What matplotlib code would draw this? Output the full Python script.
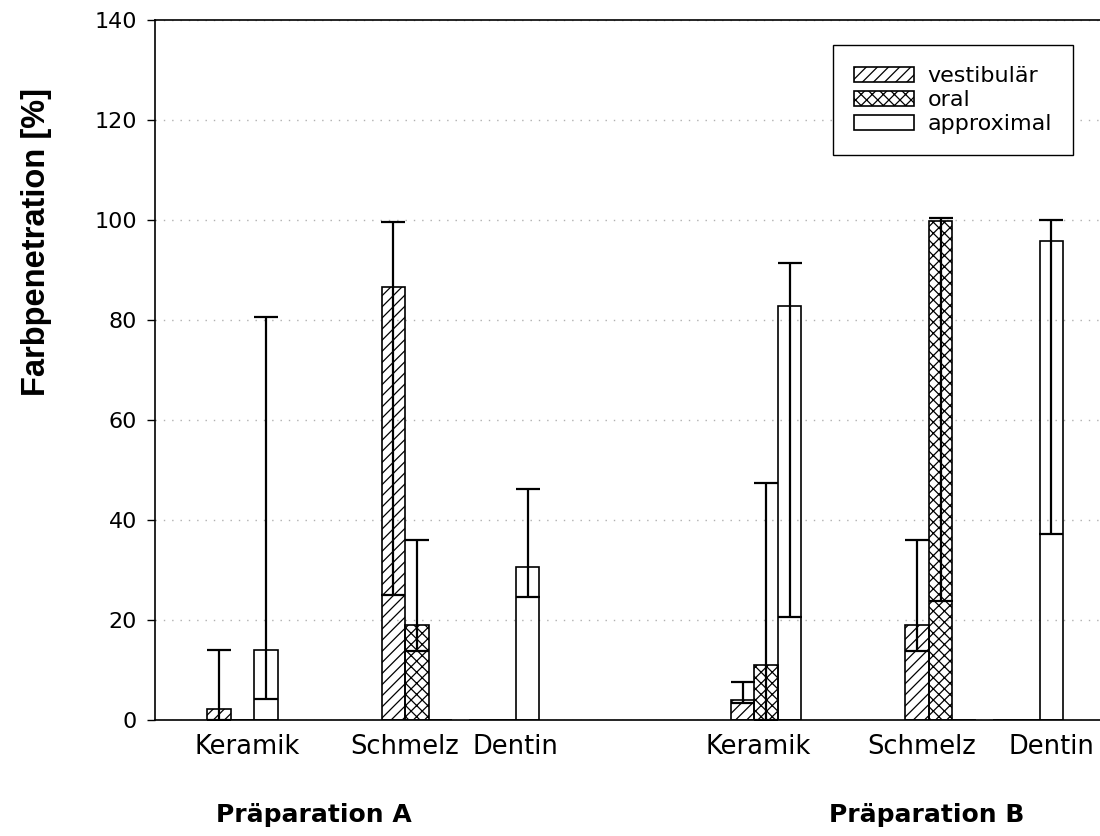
import numpy as np
import matplotlib
matplotlib.use("Agg")
import matplotlib.pyplot as plt
from matplotlib.transforms import blended_transform_factory

# Categories (two preparations, three tissue types each)
categories = ["Keramik", "Schmelz", "Dentin", "Keramik", "Schmelz", "Dentin"]
group_pos = [1, 3, 4, 7, 9, 10]
preparations = ["Präparation A", "Präparation B"]
series_names = ["vestibulär", "oral", "approximal"]

# Mean dye penetration [%] and lower / upper error limits
vest_mean = [2.2, 86.6, 0.0, 4.0, 19.1, 0.0]
vest_low = [0.0, 25.0, np.nan, 3.4, 13.8, np.nan]
vest_high = [14.0, 99.7, np.nan, 7.6, 36.0, np.nan]

oral_mean = [0.0, 19.1, 0.0, 11.1, 99.8, 0.0]
oral_low = [np.nan, 13.8, np.nan, 0.0, 23.9, np.nan]
oral_high = [np.nan, 36.0, np.nan, 47.5, 100.5, np.nan]

appr_mean = [14.1, 0.0, 30.7, 82.8, 0.0, 95.9]
appr_low = [4.2, np.nan, 24.7, 20.6, np.nan, 37.3]
appr_high = [80.6, np.nan, 46.3, 91.4, np.nan, 100.0]

yticks = [0, 20, 40, 60, 80, 100, 120, 140]

plt.rcParams["font.family"] = ["DejaVu Sans"]
plt.rcParams["hatch.linewidth"] = 0.9
plt.rcParams["hatch.color"] = "black"

fig = plt.figure(figsize=(11, 8.36), dpi=100)
ax = fig.add_axes([155 / 1100, 116 / 836, 945 / 1100, 700 / 836])

width = 0.269
hatches = ["///", "xxx", ""]
offsets = [-width, 0.0, width]
means = [vest_mean, oral_mean, appr_mean]
lows = [vest_low, oral_low, appr_low]
highs = [vest_high, oral_high, appr_high]

handles = []
for name, m, lo, hi, h, off in zip(series_names, means, lows, highs, hatches, offsets):
    x = np.array(group_pos, dtype=float) + off
    m = np.array(m)
    bars = ax.bar(x, m, width=width, facecolor="none", edgecolor="black",
                  linewidth=1.2, hatch=h, zorder=2, label=name)
    handles.append(bars)
    lo = np.array(lo)
    hi = np.array(hi)
    ok = ~np.isnan(lo)
    ax.errorbar(x[ok], m[ok], yerr=[m[ok] - lo[ok], hi[ok] - m[ok]], fmt="none",
                ecolor="black", elinewidth=1.6, capsize=8.3, capthick=1.6, zorder=3)

ax.set_xlim(0, 945 / 87.3)
ax.set_ylim(0, 140)
ax.set_yticks(yticks)
ax.tick_params(axis="y", direction="out", length=6, width=1.0, pad=7, labelsize=16)
ax.grid(axis="y", color="#b0b0b0", linestyle=(0, (1, 5)), linewidth=1.0, zorder=0)
ax.set_axisbelow(True)

# Category labels under each group
label_pos = [1.054, 2.864, 4.124, 6.907, 8.786, 10.264]
ax.set_xticks(label_pos)
ax.set_xticklabels(categories, fontsize=18.5)
ax.tick_params(axis="x", length=0, pad=10)

for side in ["left", "bottom", "top"]:
    ax.spines[side].set_linewidth(1.2)
    ax.spines[side].set_color("black")
ax.spines["right"].set_visible(False)

trans = blended_transform_factory(ax.transData, ax.transAxes)
for xp, txt in zip([1.82, 8.84], preparations):
    ax.text(xp, -0.118, txt, transform=trans, ha="center", va="top",
            fontsize=18, fontweight="bold")

fig.text(0.033, 1 - 242 / 836, "Farbpenetration [%]", rotation=90,
         ha="center", va="center", fontsize=23.5, fontweight="bold",
         family=["Liberation Sans", "DejaVu Sans"])

leg = ax.legend(handles=handles, loc="upper left", bbox_to_anchor=(0.7175, 0.964),
                fontsize=16, frameon=True, fancybox=False, shadow=False,
                framealpha=1, edgecolor="black", handlelength=2.7,
                handleheight=0.62, handletextpad=0.6, labelspacing=0.18,
                borderpad=0.95, borderaxespad=0)
leg.get_frame().set_linewidth(1.0)

fig.savefig("out.png", dpi=100)
